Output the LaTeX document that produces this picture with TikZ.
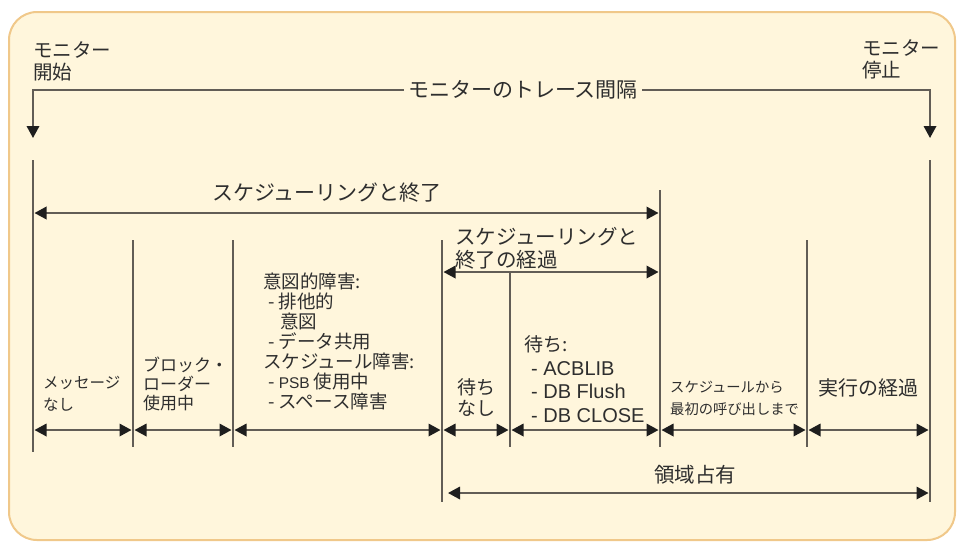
\documentclass[tikz,border=0pt]{standalone}
\usepackage{fontspec}
\newfontfamily\jp{Noto Sans CJK JP}
\newfontfamily\lat{Liberation Sans}
\usetikzlibrary{arrows.meta}
\definecolor{bgfill}{HTML}{FFF6DC}
\definecolor{bgline}{HTML}{F0C88A}
\definecolor{ink}{HTML}{625D56}
\definecolor{tipc}{HTML}{1E1E1E}
\definecolor{txt}{HTML}{2E2E2E}
\newcommand{\fsz}[2]{\fontsize{#1}{#2}\selectfont}
\begin{document}
\begin{tikzpicture}[x=1pt,y=-1pt,
  bgbox/.style={draw=bgline, fill=bgfill, line width=2pt, rounded corners=28pt},
  ln/.style={draw=ink, line width=1.9pt},
  both/.style={{Triangle[length=12pt,width=12.5pt,color=tipc]}-{Triangle[length=12pt,width=12.5pt,color=tipc]}},
  dbl/.style={ln, both, shorten <=1.5pt, shorten >=1.5pt},
  lbl/.style={inner sep=0pt, text=txt},
  ml/.style={lbl, anchor=north west, align=left}]
\useasboundingbox (0,0) rectangle (957,542);
\draw[bgbox] (9,12) rectangle (955,540);

% vertical lines
\coordinate (L0t) at (33,160);  \coordinate (L0b) at (33,452);
\coordinate (L1t) at (133,240); \coordinate (L1b) at (133,447);
\coordinate (L2t) at (233,240); \coordinate (L2b) at (233,447);
\coordinate (L3t) at (442,240); \coordinate (L3b) at (442,502);
\coordinate (L4t) at (510,272); \coordinate (L4b) at (510,447);
\coordinate (L5t) at (660,190); \coordinate (L5b) at (660,447);
\coordinate (L6t) at (807,240); \coordinate (L6b) at (807,447);
\coordinate (L7t) at (930,160); \coordinate (L7b) at (930,502);
\foreach \i in {0,...,7} {\draw[ln] (L\i t) -- (L\i b);}

% monitor trace interval
\coordinate (ms) at (33,90);  \coordinate (msa) at (33,138);
\coordinate (me) at (930,90); \coordinate (mea) at (930,138);
\draw[ln, both] (msa) -- (ms) -- (me) -- (mea);
\node[lbl, fill=bgfill, inner xsep=4pt, inner ysep=2pt, font={\jp\fsz{21}{22}}] (trace) at (523,90) {モニターのトレース間隔};
\node[ml, font={\jp\fsz{19.5}{22}}] (mstart) at (33,41.5) {モニター\\開始};
\node[ml, font={\jp\fsz{19.5}{22}}] (mstop) at (862,39) {モニター\\停止};

% rows of arrows
\coordinate (r1) at (0,213);
\coordinate (r2) at (0,272);
\coordinate (r3) at (0,430);
\coordinate (r4) at (0,493);
\draw[dbl] (L0t |- r1) -- (L5t |- r1);
\draw[dbl] (L3t |- r2) -- (L5t |- r2);
\draw[dbl] (L0t |- r3) -- (L1t |- r3);
\draw[dbl] (L1t |- r3) -- (L2t |- r3);
\draw[dbl] (L2t |- r3) -- (L3t |- r3);
\draw[dbl] (L3t |- r3) -- (L4t |- r3);
\draw[dbl] (L4t |- r3) -- (L5t |- r3);
\draw[dbl] (L5t |- r3) -- (L6t |- r3);
\draw[dbl] (L6t |- r3) -- (L7t |- r3);
\draw[dbl, shorten <=6pt] (L3t |- r4) -- (L7t |- r4);

% labels
\node[lbl, font={\jp\fsz{21}{22}}] (sched) at (327,193) {スケジューリングと終了};
\node[ml, font={\jp\fsz{20.5}{23}}] (schedp) at (455,227.5) {スケジューリングと\\終了の経過};
\node[ml, font={\jp\fsz{18.5}{20}}] (intent) at (263,272.5) {意図的障害:\\
\hspace*{5pt}- 排他的\\
\hspace*{17pt}意図\\
\hspace*{5pt}- データ共用\\
スケジュール障害:\\
\hspace*{5pt}- {\lat\fsz{15.5}{20}PSB} 使用中\\
\hspace*{5pt}- スペース障害};
\node[ml, font={\jp\fsz{15.5}{22}}] (nomsg) at (43,375.5) {メッセージ\\なし};
\node[ml, font={\jp\fsz{17}{19}}] (block) at (143,356.5) {ブロック・\\ローダー\\使用中};
\node[lbl, anchor=north, align=center, font={\jp\fsz{19}{21}}] (nowait) at (476,378.5) {待ち\\なし};
\node[ml, font={\jp\fsz{19}{23.5}}] (wait) at (524,335.5) {待ち:\\
\hspace*{7pt}{\lat\fsz{20}{23.5}- ACBLIB}\\
\hspace*{7pt}{\lat\fsz{20}{23.5}- DB Flush}\\
\hspace*{7pt}{\lat\fsz{20}{23.5}- DB CLOSE}};
\node[ml, font={\jp\fsz{14.3}{22}}] (tofirst) at (670,381) {スケジュールから\\最初の呼び出しまで};
\node[lbl, font={\jp\fsz{20}{22}}] (exec) at (868,388) {実行の経過};
\node[lbl, font={\jp\fsz{20.5}{22}}] (region) at (695,475) {領域占有};
\end{tikzpicture}
\end{document}
